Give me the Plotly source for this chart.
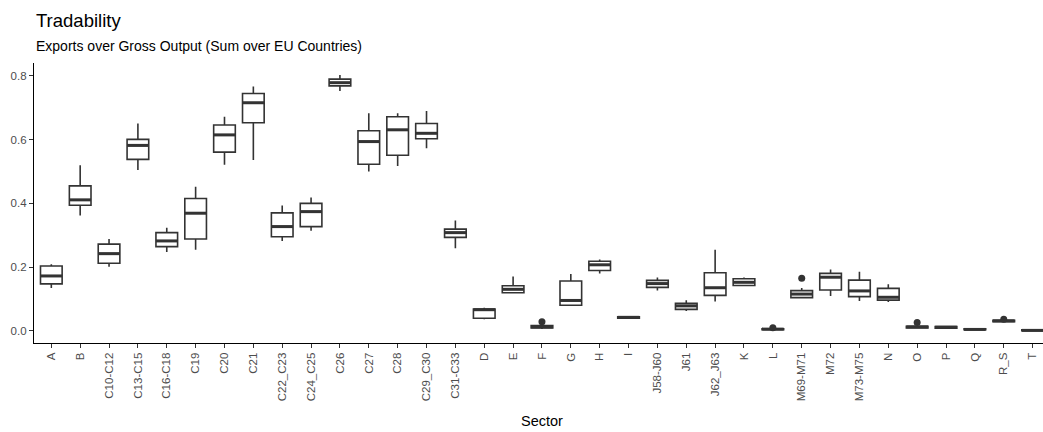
import plotly.graph_objects as go

# Sector categories on the x axis
sectors = ["A", "B", "C10-C12", "C13-C15", "C16-C18", "C19", "C20", "C21",
           "C22_C23", "C24_C25", "C26", "C27", "C28", "C29_C30", "C31-C33",
           "D", "E", "F", "G", "H", "I", "J58-J60", "J61", "J62_J63", "K",
           "L", "M69-M71", "M72", "M73-M75", "N", "O", "P", "Q", "R_S", "T"]

# Box statistics of exports / gross output per sector
lower = [0.134, 0.362, 0.201, 0.505, 0.247, 0.254, 0.521, 0.536,
         0.282, 0.314, 0.753, 0.500, 0.517, 0.573, 0.259,
         0.036, 0.117, 0.005, 0.080, 0.180, 0.037, 0.126, 0.062, 0.092, 0.140,
         0.002, 0.102, 0.109, 0.093, 0.090, 0.007, 0.006, 0.002, 0.026, 0.000]
q1 = [0.147, 0.394, 0.212, 0.538, 0.264, 0.288, 0.561, 0.653,
      0.295, 0.327, 0.769, 0.523, 0.551, 0.603, 0.293,
      0.039, 0.119, 0.009, 0.080, 0.189, 0.039, 0.136, 0.067, 0.111, 0.142,
      0.003, 0.104, 0.128, 0.107, 0.096, 0.009, 0.008, 0.003, 0.028, 0.000]
median = [0.172, 0.411, 0.242, 0.582, 0.282, 0.369, 0.615, 0.716,
          0.327, 0.374, 0.779, 0.594, 0.631, 0.620, 0.308,
          0.066, 0.130, 0.012, 0.095, 0.207, 0.042, 0.148, 0.078, 0.135, 0.152,
          0.005, 0.115, 0.168, 0.125, 0.105, 0.012, 0.011, 0.004, 0.031, 0.001]
q3 = [0.203, 0.455, 0.272, 0.601, 0.308, 0.415, 0.646, 0.745,
      0.370, 0.400, 0.790, 0.628, 0.672, 0.651, 0.319,
      0.068, 0.141, 0.016, 0.156, 0.218, 0.044, 0.158, 0.086, 0.182, 0.163,
      0.006, 0.126, 0.180, 0.159, 0.133, 0.014, 0.013, 0.006, 0.033, 0.003]
upper = [0.209, 0.520, 0.288, 0.651, 0.323, 0.452, 0.672, 0.767,
         0.393, 0.418, 0.803, 0.683, 0.683, 0.690, 0.346,
         0.072, 0.170, 0.020, 0.178, 0.224, 0.046, 0.167, 0.096, 0.254, 0.167,
         0.007, 0.134, 0.192, 0.185, 0.146, 0.016, 0.014, 0.007, 0.034, 0.004]

# Outlying observations
outlier_sector = ["F", "L", "M69-M71", "O", "R_S"]
outlier_value = [0.028, 0.009, 0.165, 0.026, 0.036]

y_ticks = [0.0, 0.2, 0.4, 0.6, 0.8]

pos = list(range(len(sectors)))
box_w = 0.75
ink = "#333333"

fig = go.Figure()

fig.add_trace(go.Box(
    x=pos, q1=q1, median=median, q3=q3,
    lowerfence=lower, upperfence=upper,
    width=box_w, whiskerwidth=0,
    fillcolor="white",
    line=dict(color=ink, width=1.6),
    showlegend=False, hoverinfo="skip",
))

# thicker median bars
mx, my = [], []
for i, m in zip(pos, median):
    mx += [i - box_w / 2, i + box_w / 2, None]
    my += [m, m, None]
fig.add_trace(go.Scatter(
    x=mx, y=my, mode="lines",
    line=dict(color=ink, width=3),
    showlegend=False, hoverinfo="skip",
))

fig.add_trace(go.Scatter(
    x=[sectors.index(s) for s in outlier_sector], y=outlier_value,
    mode="markers", marker=dict(color=ink, size=7),
    showlegend=False, hoverinfo="skip",
))

font = "Liberation Sans, Arial, Helvetica, sans-serif"
W, H = 1043, 432
ml, mr, mt, mb = 34, 0, 63, 89
ph = H - mt - mb


def py(p):
    # pixel row -> paper y
    return (H - mb - p) / ph


def px(p):
    return (p - ml) / (W - ml - mr)


fig.update_layout(
    width=W, height=H,
    margin=dict(l=ml, r=mr, t=mt, b=mb, pad=0),
    paper_bgcolor="white", plot_bgcolor="white",
    font=dict(family=font, color="black"),
    xaxis=dict(
        range=[-0.6, 34.36], tickmode="array", tickvals=pos, ticktext=sectors,
        tickangle=-90, ticks="outside", ticklen=4, tickwidth=1, tickcolor=ink,
        tickfont=dict(size=11.5, color="#4D4D4D"),
        showline=True, linecolor="black", linewidth=1.2,
        showgrid=False, zeroline=False,
    ),
    yaxis=dict(
        range=[-0.0386, 0.8408], tickmode="array", tickvals=y_ticks,
        ticktext=[f"{v:.1f}" for v in y_ticks],
        ticks="outside", ticklen=4, tickwidth=1, tickcolor=ink,
        tickfont=dict(size=11.5, color="#4D4D4D"),
        showline=True, linecolor="black", linewidth=1.2,
        showgrid=False, zeroline=False,
    ),
    annotations=[
        dict(text="Tradability", xref="paper", yref="paper", x=0, y=py(20),
             xanchor="left", yanchor="middle", showarrow=False,
             font=dict(size=18.5, color="black")),
        dict(text="Exports over Gross Output (Sum over EU Countries)",
             xref="paper", yref="paper", x=0, y=py(45.5),
             xanchor="left", yanchor="middle", showarrow=False,
             font=dict(size=14, color="black")),
        dict(text="Sector", xref="paper", yref="paper", x=px(542), y=py(421),
             xanchor="center", yanchor="middle", showarrow=False,
             font=dict(size=14.5, color="black")),
    ],
)

fig.write_html("out.html")
